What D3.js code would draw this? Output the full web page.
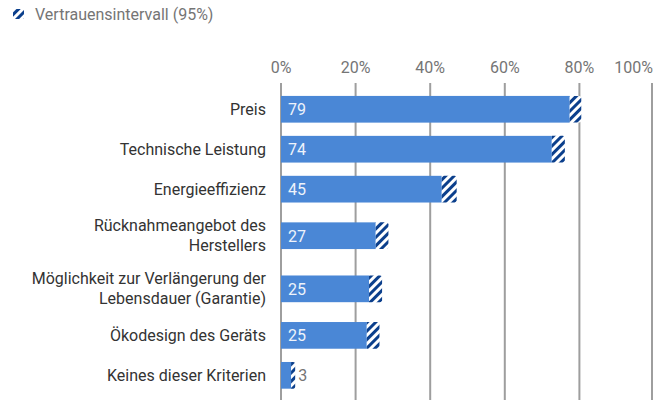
<!DOCTYPE html>
<html>
<head>
<meta charset="utf-8">
<script src="https://cdn.jsdelivr.net/npm/d3@7"></script>
<style>
  body { margin: 0; background: #fff; font-family: Roboto, sans-serif; }
</style>
</head>
<body>
<div id="viz"></div>
<script>
const categories = [
  'Preis',
  'Technische Leistung',
  'Energieeffizienz',
  'Rücknahmeangebot des\nHerstellers',
  'Möglichkeit zur Verlängerung der\nLebensdauer (Garantie)',
  'Ökodesign des Geräts',
  'Keines dieser Kriterien'
];
const values = [79, 74, 45, 27, 25, 25, 3];
const ciLow = [77.4, 72.6, 43.1, 25.4, 23.6, 23.0, 2.7];
const ciHigh = [80.5, 76.1, 47.1, 28.8, 27.1, 26.4, 3.8];
const ticks = [0, 20, 40, 60, 80, 100];
const legendLabel = 'Vertrauensintervall (95%)';

const width = 667;
const height = 400;

const svg = d3.select('#viz')
  .append('svg')
  .attr('width', width)
  .attr('height', height);

// hatch pattern for the confidence interval
const defs = svg.append('defs');
const pat = defs.append('pattern')
  .attr('id', 'hatch')
  .attr('patternUnits', 'userSpaceOnUse')
  .attr('width', 6)
  .attr('height', 6)
  .attr('patternTransform', 'rotate(45)');
pat.append('rect').attr('width', 6).attr('height', 6).attr('fill', '#fff');
pat.append('rect').attr('width', 3).attr('height', 6).attr('fill', '#0b3f8c');

// legend
svg.append('rect')
  .attr('x', 13).attr('y', 9)
  .attr('width', 11).attr('height', 10)
  .attr('fill', 'url(#hatch)');
svg.append('text')
  .attr('x', 35).attr('y', 20)
  .attr('fill', '#757575')
  .attr('font-size', 16)
  .text(legendLabel);

const x = d3.scaleLinear()
  .domain([0, 100])
  .range([281, 654]);

// rows with two-line labels get extra room
const rowUnits = categories.map(c => c.includes('\n') ? 1.33 : 1);
const starts = d3.cumsum([0].concat(rowUnits));
const y = d3.scaleLinear()
  .domain([0, d3.sum(rowUnits)])
  .range([89.3, 395.3]);
const barH = 26.7;
const rowMid = i => (y(starts[i]) + y(starts[i + 1])) / 2;

// gridlines
svg.selectAll('line.grid')
  .data(ticks)
  .enter()
  .append('line')
  .attr('class', 'grid')
  .attr('x1', d => Math.min(x(d), 652)).attr('x2', d => Math.min(x(d), 652))
  .attr('y1', 83).attr('y2', height)
  .attr('stroke', '#9e9e9e')
  .attr('stroke-width', 2);

svg.selectAll('text.tick')
  .data(ticks)
  .enter()
  .append('text')
  .attr('class', 'tick')
  .attr('x', d => d === 100 ? 653 : x(d))
  .attr('y', 73)
  .attr('text-anchor', d => d === 100 ? 'end' : 'middle')
  .attr('fill', '#757575')
  .attr('font-size', 16)
  .text(d => d + '%');

// bars
const rows = svg.selectAll('g.row')
  .data(categories)
  .enter()
  .append('g')
  .attr('class', 'row');

rows.append('rect')
  .attr('x', x(0))
  .attr('y', (d, i) => rowMid(i) - barH / 2)
  .attr('width', (d, i) => x(ciLow[i]) - x(0))
  .attr('height', barH)
  .attr('fill', '#4a87d6');

rows.append('path')
  .attr('d', (d, i) => {
    const x0 = x(ciLow[i]), x1 = x(ciHigh[i]);
    const y0 = rowMid(i) - barH / 2, y1 = y0 + barH, r = 2;
    return `M${x0},${y0}H${x1 - r}Q${x1},${y0} ${x1},${y0 + r}V${y1 - r}Q${x1},${y1} ${x1 - r},${y1}H${x0}Z`;
  })
  .attr('fill', 'url(#hatch)');

rows.append('text')
  .attr('x', (d, i) => values[i] > 10 ? x(0) + 7 : x(ciHigh[i]) + 3)
  .attr('y', (d, i) => rowMid(i) + 6)
  .attr('fill', (d, i) => values[i] > 10 ? '#eef3fb' : '#757575')
  .attr('font-size', 16)
  .text((d, i) => values[i]);

// category labels
rows.each(function(d, i) {
  const lines = d.split('\n');
  const t = d3.select(this).append('text')
    .attr('text-anchor', 'end')
    .attr('fill', '#333')
    .attr('font-size', 16);
  lines.forEach((ln, k) => {
    t.append('tspan')
      .attr('x', 266)
      .attr('y', rowMid(i) + 5.5 + (k - (lines.length - 1) / 2) * 20)
      .text(ln);
  });
});
</script>
</body>
</html>
